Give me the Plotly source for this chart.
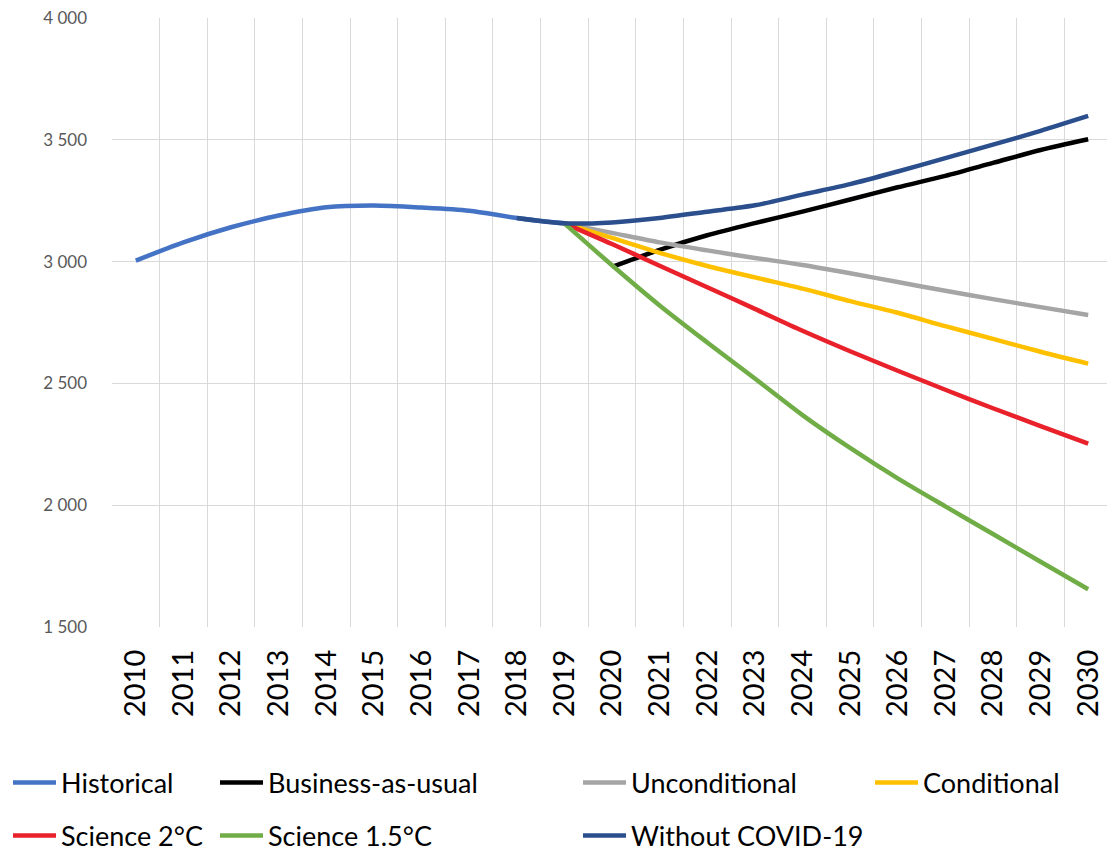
import plotly.graph_objects as go

years = [str(y) for y in range(2010, 2031)]

historical_years = years[0:10]
historical = [3004, 3079, 3141, 3189, 3223, 3230, 3222, 3209, 3179, 3157]

covid_years = years[8:]
without_covid = [3179, 3157, 3161, 3179, 3205, 3231, 3275, 3318, 3370, 3425, 3480, 3537, 3598]

bau_years = years[10:]
bau = [2978, 3048, 3108, 3158, 3205, 3255, 3305, 3352, 3405, 3458, 3502]

scen_years = years[9:]
unconditional = [3157, 3118, 3079, 3046, 3015, 2986, 2952, 2916, 2880, 2846, 2813, 2781]
conditional = [3157, 3097, 3036, 2982, 2935, 2889, 2838, 2790, 2735, 2683, 2630, 2581]
science_2 = [3157, 3072, 2983, 2895, 2806, 2716, 2632, 2552, 2474, 2398, 2325, 2253]
science_15 = [3157, 2985, 2820, 2668, 2520, 2370, 2235, 2110, 1995, 1882, 1768, 1655]

y_ticks = [1500, 2000, 2500, 3000, 3500, 4000]

series = [
    ("Historical", historical_years, historical, "#4472C4", "legend", 0, 783),
    ("Business-as-usual", bau_years, bau, "#000000", "legend2", 207, 783),
    ("Unconditional", scen_years, unconditional, "#A5A5A5", "legend3", 570, 783),
    ("Conditional", scen_years, conditional, "#FFC000", "legend4", 862, 783),
    ("Science 2°C", scen_years, science_2, "#E8212B", "legend5", 0, 836),
    ("Science 1.5°C", scen_years, science_15, "#70AD47", "legend6", 207, 836),
    ("Without COVID-19", covid_years, without_covid, "#2B4E8C", "legend7", 570, 836),
]

FONT = "Lato"
W, H = 1107, 847

fig = go.Figure()
legend_layouts = {}
for name, xs, ys, color, leg, lx, ly in series:
    fig.add_trace(go.Scatter(
        x=xs, y=ys, name=name, mode="lines",
        line=dict(color=color, width=4.5, shape="spline", smoothing=0.8),
        legend=leg, hoverinfo="x+y+name",
    ))
    legend_layouts[leg] = dict(
        x=lx / W, xref="container", xanchor="left",
        y=1 - (ly - 8) / H, yref="container", yanchor="middle",
        orientation="v", bgcolor="rgba(0,0,0,0)", borderwidth=0,
        font=dict(family=FONT, size=27, color="#000000"),
        itemwidth=43,
    )

fig.update_layout(
    width=W, height=H,
    margin=dict(l=104, r=3, t=10, b=228, autoexpand=False),
    paper_bgcolor="white", plot_bgcolor="white",
    separators=". ",
    showlegend=True,
    xaxis=dict(
        type="category", categoryorder="array", categoryarray=years,
        range=[-0.5, 20.5], tickson="boundaries",
        showgrid=True, gridcolor="#D9D9D9", gridwidth=1,
        ticks="", ticklabelstandoff=16, tickangle=-90,
        tickfont=dict(family=FONT, size=29, color="#000000"),
        showline=False, zeroline=False, fixedrange=True,
        ticklabeloverflow="allow",
    ),
    yaxis=dict(
        range=[1500, 4000], tickvals=y_ticks, tickformat=",d",
        showgrid=True, gridcolor="#D9D9D9", gridwidth=1,
        ticks="", ticklabelstandoff=24,
        tickfont=dict(family=FONT, size=17, color="#595959"),
        showline=False, zeroline=False, fixedrange=True,
        ticklabeloverflow="allow",
    ),
    **legend_layouts,
)

fig.write_html("out.html")
